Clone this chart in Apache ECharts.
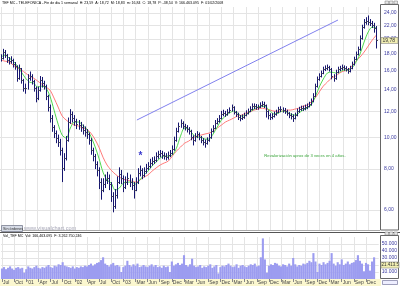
<!DOCTYPE html>
<html><head><meta charset="utf-8">
<script src="https://cdn.jsdelivr.net/npm/echarts@6/dist/echarts.min.js"></script>
<style>html,body{margin:0;padding:0;background:#fff}#c{width:400px;height:286px}</style>
</head><body><div id="c"></div>
<script>
// Quarter tick labels (months since Jul 2000, every 3)
const tickLabels = ["Jul","Oct","'01","Apr","Jul","Oct","'02","Apr","Jul","Oct","'03","Mar","Jun","Sep","Dec","Mar","Jun","Sep","Dec","Mar","Jun","Sep","Dec","Mar","Jun","Sep","Dec","Mar","Jun","Sep","Dec"];
const priceTicks = [6,8,10,12,14,16,18,20,22,24];
const volTicks = [10,20,30,40,50];

// Half-month bars
const close = [17.48,18.23,17.85,17.23,17.1,17.23,16.76,16.52,15.18,16.29,
14.97,14.15,14.15,15.18,15.4,14.86,14.15,13.19,13.95,14.97,
14.65,14.35,13.37,12.38,11.45,10.75,10.31,9.95,9.68,9.14,
8.06,8.64,9.81,11.14,11.78,11.45,11.2,10.98,10.9,10.75,
10.53,10.38,10.24,9.81,9.14,8.77,8.29,7.94,7.3,6.9,
7.2,7.4,7.51,7.2,6.62,6.17,6.66,7.3,7.72,7.51,
7.05,7.3,7.51,7.3,7.15,6.9,7.3,7.78,7.94,7.67,
7.88,8.06,8.17,8.35,8.46,8.52,8.77,8.89,8.95,8.83,
8.77,8.7,8.83,8.95,9.2,9.81,10.45,10.83,11.06,10.83,
10.75,10.6,10.45,10.02,9.81,10.09,10.24,10.02,9.81,9.68,
9.6,9.81,10.02,10.45,10.68,11.06,11.2,11.45,11.78,11.87,
11.78,11.95,12.12,12.38,11.95,11.78,11.53,11.45,11.53,11.7,
11.87,12.03,12.2,12.46,12.46,12.38,12.38,12.55,12.64,12.55,
12.03,11.7,11.53,11.62,11.78,11.95,12.2,12.2,12.12,12.03,
11.87,11.7,11.62,11.45,11.7,12.03,12.2,12.29,12.29,12.38,
12.46,12.64,12.91,13.37,14.35,15.08,15.4,15.73,16.18,16.29,
16.4,16.18,15.4,15.18,15.84,16.18,16.29,16.4,16.29,16.18,
15.95,16.29,16.76,17.35,17.98,18.62,20.13,21.75,22.52,22.68,
22.52,22.36,22.05,21.6,19.78];
const high = [17.95,18.65,18.5,18.0,17.6,17.7,17.4,17.0,16.6,16.7,
16.3,15.1,14.6,15.6,15.9,15.6,15.0,14.3,14.3,15.4,
15.3,14.9,14.5,13.5,12.6,11.7,10.9,10.5,10.2,9.9,
9.3,8.95,10.1,11.5,12.2,12.0,11.7,11.4,11.3,11.15,
10.95,10.8,10.6,10.35,9.95,9.3,8.9,8.45,8.1,7.5,
7.5,7.7,7.85,7.7,7.3,6.8,6.95,7.6,8.1,7.95,
7.65,7.6,7.8,7.7,7.5,7.3,7.55,8.05,8.2,8.05,
8.1,8.3,8.4,8.6,8.7,8.75,9.0,9.1,9.15,9.1,
9.0,8.95,9.05,9.15,9.45,10.05,10.7,11.1,11.35,11.2,
11.0,10.9,10.75,10.55,10.15,10.3,10.45,10.35,10.1,9.95,
9.85,10.0,10.25,10.65,10.9,11.3,11.45,11.7,12.05,12.15,
12.05,12.2,12.35,12.6,12.45,12.05,11.9,11.7,11.75,11.9,
12.1,12.25,12.45,12.7,12.7,12.65,12.6,12.8,12.9,12.85,
12.6,12.1,11.85,11.85,12.0,12.15,12.4,12.45,12.35,12.3,
12.15,11.95,11.85,11.75,11.9,12.25,12.4,12.5,12.5,12.6,
12.7,12.85,13.15,13.65,14.6,15.35,15.7,16.0,16.45,16.6,
16.7,16.55,16.3,15.6,16.1,16.45,16.55,16.7,16.6,16.5,
16.3,16.55,17.05,17.65,18.3,18.95,20.5,22.1,23.0,23.3,
23.59,23.0,22.7,22.4,21.9];
const low = [17.05,17.3,17.5,16.9,16.7,16.8,16.35,16.1,14.8,15.0,
14.6,13.8,13.6,14.0,14.9,14.5,13.8,12.8,13.0,13.8,
14.2,14.0,13.0,12.0,11.1,10.4,9.95,9.6,9.35,8.8,
7.3,7.9,8.5,9.7,11.0,11.1,10.85,10.6,10.55,10.4,
10.2,10.05,9.9,9.5,8.85,8.45,8.0,7.6,6.95,6.45,
6.8,7.0,7.2,6.9,6.35,5.9,6.05,6.5,7.2,7.2,
6.8,6.95,7.15,7.05,6.9,6.5,6.85,7.2,7.6,7.45,
7.55,7.75,7.95,8.05,8.2,8.3,8.4,8.6,8.7,8.6,
8.55,8.5,8.55,8.7,8.85,9.1,9.7,10.35,10.7,10.6,
10.5,10.35,10.2,9.8,9.45,9.7,9.95,9.8,9.6,9.45,
9.3,9.5,9.7,9.9,10.35,10.6,10.95,11.1,11.35,11.6,
11.55,11.65,11.85,12.0,11.75,11.55,11.3,11.2,11.3,11.4,
11.6,11.75,11.95,12.1,12.2,12.15,12.15,12.3,12.4,12.3,
11.5,11.35,11.3,11.35,11.5,11.65,11.85,11.95,11.9,11.8,
11.65,11.45,11.35,11.15,11.35,11.6,11.9,12.05,12.05,12.1,
12.2,12.35,12.5,12.8,13.3,14.2,14.9,15.25,15.6,15.95,
16.05,15.9,15.05,14.8,15.0,15.7,15.95,16.05,16.0,15.9,
15.65,15.8,16.15,16.6,17.2,17.8,18.4,19.9,21.5,22.1,
22.0,21.9,21.6,20.9,18.7];
// Volume (thousands), per half-month bar
const volume = [15,17,14,16,18,15,13,16,17,15,
16,9,14,18,16,15,17,19,16,15,
17,16,18,20,17,16,19,18,21,20,
24,19,18,17,16,18,15,17,16,18,
17,19,18,20,22,19,21,23,24,27,
31,22,20,18,21,23,19,20,18,10,
17,19,26,20,18,21,19,22,17,18,
20,18,17,19,21,18,20,17,18,16,
19,17,18,10,25,19,21,23,20,22,
34,20,18,21,29,19,17,18,20,16,
18,17,19,21,16,18,20,8,17,19,
18,20,22,19,17,18,21,16,19,20,
18,17,19,21,20,22,18,19,31,58,
28,9,19,21,20,23,22,19,18,21,
20,18,22,19,30,21,18,20,19,22,
21,23,26,24,37,25,10,22,20,24,
21,23,26,37,22,19,24,21,28,20,
22,25,21,23,24,27,34,26,22,11,
23,21,12,25,31];
// Moving averages, monthly
const maSlow = [17.23,17.1,16.99,16.64,16.29,16.06,15.73,15.4,15.18,14.86,
14.55,14.25,13.95,13.19,12.38,11.62,11.29,11.06,10.9,10.83,
10.68,10.6,10.31,9.88,9.34,8.7,8.23,7.94,7.72,7.56,
7.45,7.4,7.35,7.3,7.4,7.56,7.67,7.88,8.06,8.23,
8.35,8.46,8.77,9.08,9.34,9.6,9.74,9.95,10.09,10.16,
10.24,10.31,10.45,10.68,10.9,11.14,11.29,11.45,11.62,11.7,
11.87,11.95,12.12,12.2,12.29,12.2,12.12,12.03,12.03,12.03,
12.12,12.12,12.2,12.29,12.46,12.55,12.82,13.19,13.76,14.35,
14.76,15.18,15.4,15.73,15.95,16.06,16.52,17.1,17.6,18.23,
19.02,19.84,20.55];
const maFast = [17.6,17.85,17.48,17.1,16.52,15.84,15.18,14.76,14.65,14.25,
14.35,14.15,13.37,12.12,10.98,10.16,9.95,10.68,11.14,11.14,
10.9,10.6,10.09,9.41,8.64,7.83,7.4,7.25,6.9,7.0,
7.25,7.3,7.3,7.2,7.4,7.67,7.88,8.17,8.4,8.64,
8.77,8.77,8.83,9.27,10.09,10.68,10.6,10.24,10.02,10.02,
9.88,9.88,10.24,10.75,11.29,11.62,11.87,12.03,11.87,11.62,
11.7,11.95,12.2,12.38,12.46,12.38,12.03,11.78,11.87,12.03,
11.95,11.78,11.7,11.87,12.12,12.29,12.55,13.28,14.25,15.08,
15.73,15.84,15.73,15.84,16.06,16.06,16.29,16.99,17.98,19.57,
21.0,21.75,21.6];
const trendline = [[33.3, 11.3], [82.6, 22.85]];
const starPoint = [34.2, 8.9];
const notePoint = [74.5, 8.77];
const noteText = 'Revalorización aprox de 3 veces en 4 años.';
const lastPrice = 19.78, lastPriceText = '19,78';
const volBoxValue = 20, volBoxText = '21.413.5';

const FONT = 'Liberation Sans, Arial, sans-serif';
const chart = echarts.init(document.getElementById('c'));
const t = close.map((_, i) => i / 2);          // months since Jul 2000
const bars = close.map((c, i) => [t[i], low[i], high[i], c]);
const tickMonths = tickLabels.map((_, k) => k * 3);
const X_MIN = -0.245, X_MAX = 93.14;
const grid0 = '#e4e4e4';

chart.setOption({
  animation: false,
  grid: [{left: 0, right: 19, top: 7, bottom: 56}, {left: 0, right: 19, top: 237, bottom: 7}],
  xAxis: [
    {gridIndex: 0, type: 'value', min: X_MIN, max: X_MAX, axisLine: {show: false},
     axisTick: {show: false, customValues: tickMonths}, axisLabel: {show: false, customValues: tickMonths},
     splitLine: {show: true, lineStyle: {color: grid0, width: 1}}},
    {gridIndex: 1, type: 'value', min: X_MIN, max: X_MAX, axisLine: {show: false},
     axisTick: {show: true, customValues: tickMonths, length: 3, lineStyle: {color: '#888'}},
     axisLabel: {show: true, customValues: tickMonths, formatter: v => tickLabels[Math.round(v / 3)] || '',
       align: 'left', fontSize: 5, color: '#444', margin: 1, fontFamily: FONT, padding: [0, 0, 0, 1]},
     splitLine: {show: true, lineStyle: {color: grid0, width: 1}}}
  ],
  yAxis: [
    {gridIndex: 0, type: 'log', logBase: 10, min: 5.21, max: 25.04, position: 'right',
     axisLine: {show: false}, axisTick: {show: false, customValues: priceTicks},
     axisLabel: {customValues: priceTicks, formatter: v => (+v).toFixed(2).replace('.', ','), fontSize: 5,
       color: '#3a3aa0', margin: 3, fontFamily: FONT},
     splitLine: {show: true, lineStyle: {color: grid0}}},
    {gridIndex: 1, type: 'value', min: 0, max: 60, position: 'right',
     axisLine: {show: false}, axisTick: {show: false, customValues: volTicks},
     axisLabel: {customValues: volTicks, formatter: v => v + '.000', fontSize: 5, color: '#3a3aa0', margin: 3, fontFamily: FONT},
     splitLine: {show: true, lineStyle: {color: grid0}}}
  ],
  series: [
    {type: 'line', xAxisIndex: 0, yAxisIndex: 0, data: maSlow.map((v, j) => [j, v]), showSymbol: false,
     smooth: 0.3, lineStyle: {color: '#ff7a7a', width: 1}, z: 2,
     markLine: {silent: true, symbol: 'none', label: {show: false},
       lineStyle: {color: '#8080ee', width: 1, type: 'solid'},
       data: [[{coord: trendline[0]}, {coord: trendline[1]}]]},
     markPoint: {silent: true, symbol: 'circle', symbolSize: 1, itemStyle: {color: 'rgba(0,0,0,0)'},
       data: [
         {coord: starPoint, label: {show: true, position: 'inside', formatter: '*', fontSize: 10, fontWeight: 'bold', color: '#3a3acc', fontFamily: FONT, offset: [0, 2]}},
         {coord: notePoint, label: {show: true, position: 'inside', formatter: noteText, fontSize: 4.2, color: '#3aa53a', fontFamily: FONT}}
       ]}},
    {type: 'line', xAxisIndex: 0, yAxisIndex: 0, data: maFast.map((v, j) => [j, v]), showSymbol: false,
     smooth: 0.3, lineStyle: {color: '#4fd84f', width: 1}, z: 2},
    {type: 'custom', xAxisIndex: 0, yAxisIndex: 0, data: bars, encode: {x: 0, y: [1, 2, 3]}, z: 3,
     renderItem: (params, api) => {
       const x = api.value(0), lo = api.value(1), hi = api.value(2), c = api.value(3);
       const a = api.coord([x, lo]), b = api.coord([x, hi]), pc = api.coord([x, c]);
       const px = Math.round(a[0]) + 0.5;
       const col = '#16166e';
       return {type: 'group', children: [
         {type: 'line', shape: {x1: px, y1: a[1], x2: px, y2: b[1]}, style: {stroke: col, lineWidth: 1}},
         {type: 'line', shape: {x1: px, y1: Math.round(pc[1]) + 0.5, x2: px + 1.5, y2: Math.round(pc[1]) + 0.5}, style: {stroke: '#555', lineWidth: 1}}
       ]};
     }},
    {type: 'bar', xAxisIndex: 1, yAxisIndex: 1, data: volume.map((v, i) => [t[i], v]), barWidth: 2.1,
     itemStyle: {color: '#9c9cf0'}, z: 2}
  ]
});

const py = chart.convertToPixel({yAxisIndex: 0}, lastPrice);
const vy = chart.convertToPixel({yAxisIndex: 1}, volBoxValue);
const rich = {k: {color: '#333', fontSize: 3.6, fontFamily: FONT}, v: {color: '#2a2ab8', fontSize: 3.6, fontFamily: FONT}, r: {color: '#e03030', fontSize: 3.6, fontFamily: FONT}};
const btn = (x, y, id) => ({type: 'rect', id: id, shape: {x: x, y: y, width: 3.5, height: 3}, style: {fill: '#e8e8e8', stroke: '#777', lineWidth: 0.5}, z: 10});
chart.setOption({
  graphic: [
    {type: 'rect', id: 'band', shape: {x: 0, y: 279, width: 381, height: 7}, style: {fill: '#fbf7cf'}, z: -1},
    {type: 'rect', id: 'rbox1', shape: {x: 380.5, y: 4.5, width: 18, height: 225.5}, style: {fill: 'none', stroke: '#666', lineWidth: 1}, z: 5},
    {type: 'rect', id: 'rbox2', shape: {x: 380.5, y: 235.5, width: 18, height: 43}, style: {fill: 'none', stroke: '#666', lineWidth: 1}, z: 5},
    {type: 'line', id: 'sep', shape: {x1: 0, y1: 232.5, x2: 400, y2: 232.5}, style: {stroke: '#555', lineWidth: 1}, z: 5},
    {type: 'line', id: 'sep2', shape: {x1: 0, y1: 230.5, x2: 380, y2: 230.5}, style: {stroke: '#aaa', lineWidth: 1}, z: 5},
    btn(385, 1, 'b1'), btn(389.5, 1, 'b2'), btn(394, 1, 'b3'),
    btn(385, 232, 'b4'), btn(389.5, 232, 'b5'), btn(394, 232, 'b6'),
    {type: 'rect', id: 'scroll', shape: {x: 382.5, y: 280.5, width: 15, height: 4}, style: {fill: '#eef', stroke: '#88a', lineWidth: 0.8}, z: 5},
    {type: 'text', id: 'title', x: 2, y: 1, z: 10, style: {rich: rich,
      text: '{k|TEF MC - TELEFONICA - Fin de dia 1 semanal  H: }{v|23,59}{k|  A: }{v|18,72}{k|  M: }{v|18,83}{k|  m: }{v|16,84}{k|  C: }{v|18,78}{k|  P: }{r|-38,54}{k|  V: }{v|166.463.095}{k|  F: }{v|01/02/2008}'}},
    {type: 'rect', id: 'sin', shape: {x: 1.5, y: 225.5, width: 21, height: 6}, style: {fill: '#d6dbe6', stroke: '#7a7f90', lineWidth: 0.8}, z: 10},
    {type: 'text', id: 'sintx', x: 3, y: 226.8, z: 11, style: {text: 'Sin órdenes', fontSize: 3.8, fill: '#333', fontFamily: FONT}},
    {type: 'text', id: 'www', x: 24, y: 225.5, z: 10, style: {text: 'www.visualchart.com', fontSize: 5.6, fill: '#a8a8b8', fontFamily: FONT}},
    {type: 'text', id: 'voltx', x: 3, y: 234, z: 10, style: {rich: rich,
      text: '{v|Vol_TEF MC}{k|  Vol: }{v|166.463.095}{r|  F: 3.262.750.246}'}},
    {type: 'rect', id: 'pbox', shape: {x: 381, y: py - 3, width: 17, height: 6}, style: {fill: '#f2efb2', stroke: '#888', lineWidth: 0.6}, z: 12},
    {type: 'text', id: 'pboxt', x: 382.5, y: py - 2.3, z: 13, style: {text: lastPriceText, fontSize: 5, fill: '#333', fontFamily: FONT}},
    {type: 'rect', id: 'vbox', shape: {x: 381, y: vy - 3, width: 18, height: 6}, style: {fill: '#f2efb2', stroke: '#888', lineWidth: 0.6}, z: 12},
    {type: 'text', id: 'vboxt', x: 381.5, y: vy - 2.3, z: 13, style: {text: volBoxText, fontSize: 4.5, fill: '#333', fontFamily: FONT}}
  ]
});
</script></body></html>
